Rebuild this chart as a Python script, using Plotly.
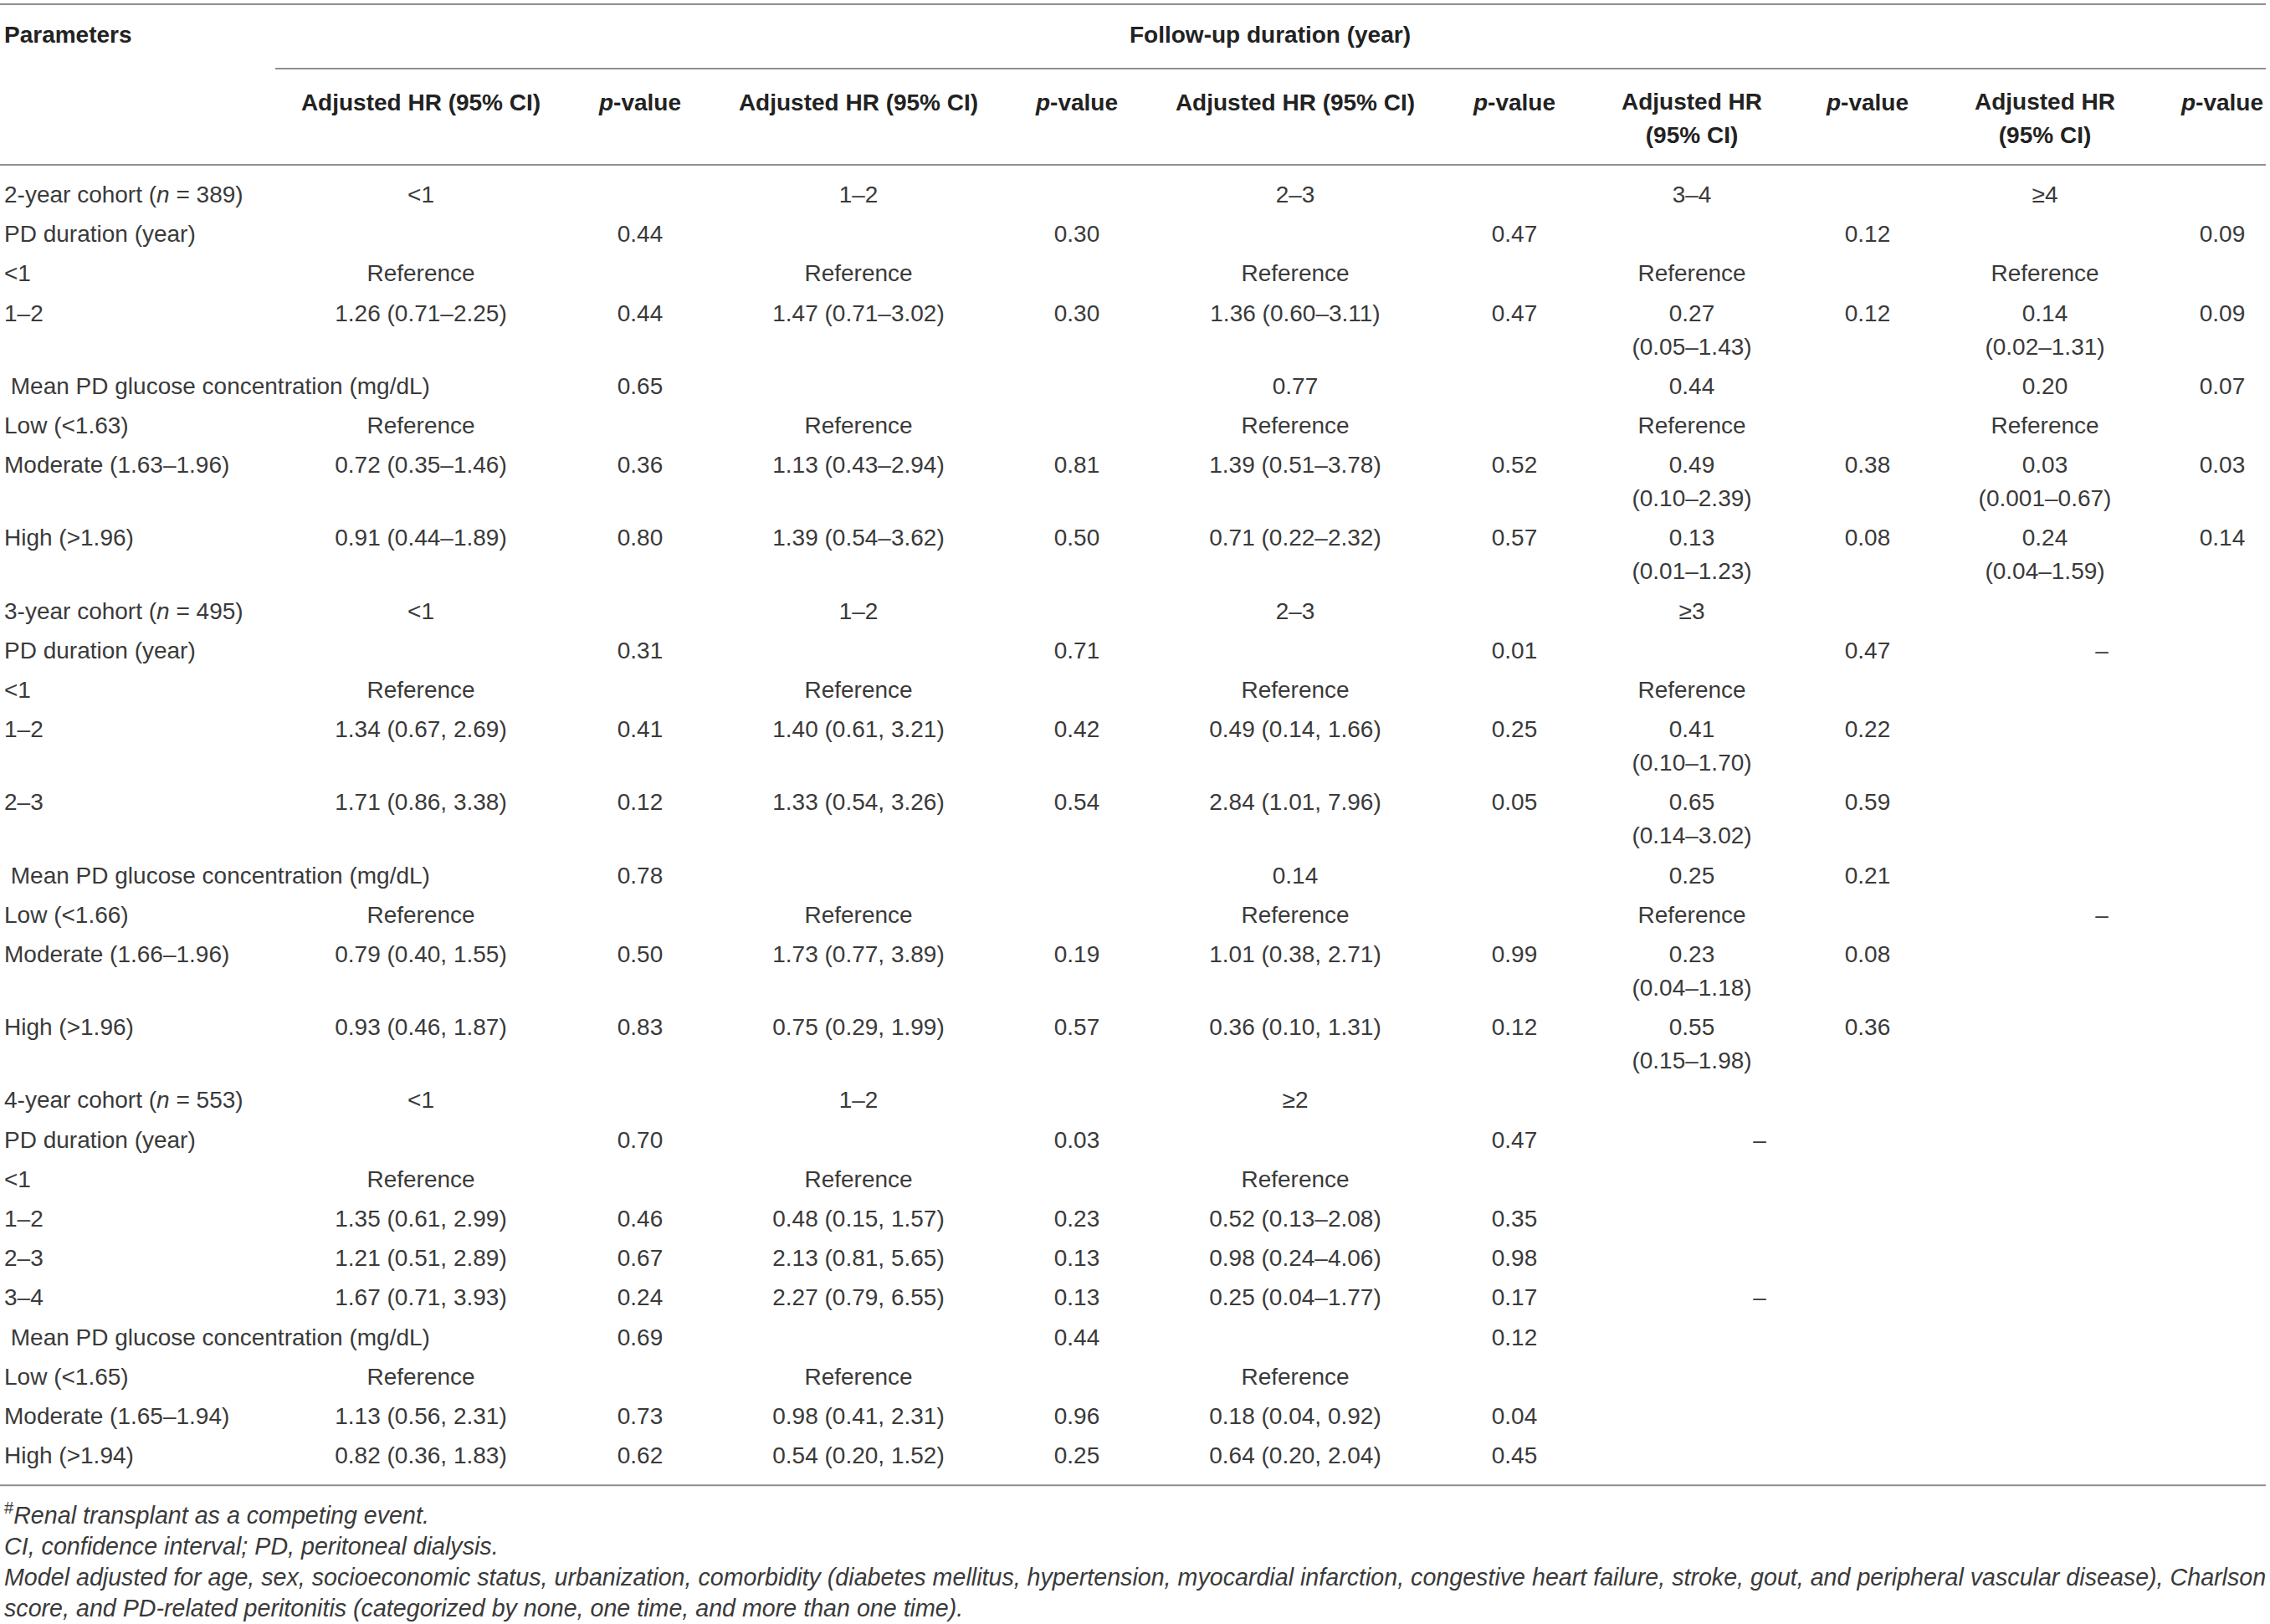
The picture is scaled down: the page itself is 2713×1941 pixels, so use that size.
import plotly.graph_objects as go

# ---------------- data ----------------
row_labels = [
    "2-year cohort (<i>n</i> = 389)", "PD duration (year)", "<1", "1–2",
    "\u00a0Mean PD glucose concentration (mg/dL)", "Low (<1.63)", "Moderate (1.63–1.96)", "High (>1.96)",
    "3-year cohort (<i>n</i> = 495)", "PD duration (year)", "<1", "1–2", "2–3",
    "\u00a0Mean PD glucose concentration (mg/dL)", "Low (<1.66)", "Moderate (1.66–1.96)", "High (>1.96)",
    "4-year cohort (<i>n</i> = 553)", "PD duration (year)", "<1", "1–2", "2–3", "3–4",
    "\u00a0Mean PD glucose concentration (mg/dL)", "Low (<1.65)", "Moderate (1.65–1.94)", "High (>1.94)",
]

hr1 = ["<1", "", "Reference", "1.26 (0.71–2.25)", "", "Reference", "0.72 (0.35–1.46)", "0.91 (0.44–1.89)",
       "<1", "", "Reference", "1.34 (0.67, 2.69)", "1.71 (0.86, 3.38)", "", "Reference", "0.79 (0.40, 1.55)", "0.93 (0.46, 1.87)",
       "<1", "", "Reference", "1.35 (0.61, 2.99)", "1.21 (0.51, 2.89)", "1.67 (0.71, 3.93)", "", "Reference", "1.13 (0.56, 2.31)", "0.82 (0.36, 1.83)"]
p1 = ["", "0.44", "", "0.44", "0.65", "", "0.36", "0.80",
      "", "0.31", "", "0.41", "0.12", "0.78", "", "0.50", "0.83",
      "", "0.70", "", "0.46", "0.67", "0.24", "0.69", "", "0.73", "0.62"]
hr2 = ["1–2", "", "Reference", "1.47 (0.71–3.02)", "", "Reference", "1.13 (0.43–2.94)", "1.39 (0.54–3.62)",
       "1–2", "", "Reference", "1.40 (0.61, 3.21)", "1.33 (0.54, 3.26)", "", "Reference", "1.73 (0.77, 3.89)", "0.75 (0.29, 1.99)",
       "1–2", "", "Reference", "0.48 (0.15, 1.57)", "2.13 (0.81, 5.65)", "2.27 (0.79, 6.55)", "", "Reference", "0.98 (0.41, 2.31)", "0.54 (0.20, 1.52)"]
p2 = ["", "0.30", "", "0.30", "", "", "0.81", "0.50",
      "", "0.71", "", "0.42", "0.54", "", "", "0.19", "0.57",
      "", "0.03", "", "0.23", "0.13", "0.13", "0.44", "", "0.96", "0.25"]
hr3 = ["2–3", "", "Reference", "1.36 (0.60–3.11)", "0.77", "Reference", "1.39 (0.51–3.78)", "0.71 (0.22–2.32)",
       "2–3", "", "Reference", "0.49 (0.14, 1.66)", "2.84 (1.01, 7.96)", "0.14", "Reference", "1.01 (0.38, 2.71)", "0.36 (0.10, 1.31)",
       "≥2", "", "Reference", "0.52 (0.13–2.08)", "0.98 (0.24–4.06)", "0.25 (0.04–1.77)", "", "Reference", "0.18 (0.04, 0.92)", "0.64 (0.20, 2.04)"]
p3 = ["", "0.47", "", "0.47", "", "", "0.52", "0.57",
      "", "0.01", "", "0.25", "0.05", "", "", "0.99", "0.12",
      "", "0.47", "", "0.35", "0.98", "0.17", "0.12", "", "0.04", "0.45"]
hr4 = ["3–4", "", "Reference", "0.27 (0.05–1.43)", "0.44", "Reference", "0.49 (0.10–2.39)", "0.13 (0.01–1.23)",
       "≥3", "", "Reference", "0.41 (0.10–1.70)", "0.65 (0.14–3.02)", "0.25", "Reference", "0.23 (0.04–1.18)", "0.55 (0.15–1.98)",
       "", "", "", "", "", "", "", "", "", ""]
p4 = ["", "0.12", "", "0.12", "", "", "0.38", "0.08",
      "", "0.47", "", "0.22", "0.59", "0.21", "", "0.08", "0.36",
      "", "", "", "", "", "", "", "", "", ""]
hr5 = ["≥4", "", "Reference", "0.14 (0.02–1.31)", "0.20", "Reference", "0.03 (0.001–0.67)", "0.24 (0.04–1.59)",
       "", "", "", "", "", "", "", "", "",
       "", "", "", "", "", "", "", "", "", ""]
p5 = ["", "0.09", "", "0.09", "0.07", "", "0.03", "0.14",
      "", "", "", "", "", "", "", "", "",
      "", "", "", "", "", "", "", "", "", ""]
dash_3yr = ["", "", "", "", "", "", "", "",
            "", "–", "", "", "", "", "–", "", "",
            "", "", "", "", "", "", "", "", "", ""]
dash_4yr = ["", "", "", "", "", "", "", "",
            "", "", "", "", "", "", "", "", "",
            "", "–", "", "", "", "–", "", "", "", ""]

header_group = "Follow-up duration (year)"
header_param = "Parameters"
header_hr_wide = "Adjusted HR (95% CI)"
header_hr_narrow = ["Adjusted HR", "(95% CI)"]
header_p = "<i>p</i>-value"

footnotes = [
    "<sup>#</sup><i>Renal transplant as a competing event.</i>",
    "<i>CI, confidence interval; PD, peritoneal dialysis.</i>",
    "<i>Model adjusted for age, sex, socioeconomic status, urbanization, comorbidity (diabetes mellitus, hypertension, myocardial infarction, congestive heart failure, stroke, gout, and peripheral vascular disease), Charlson</i>",
    "<i>score, and PD-related peritonitis (categorized by none, one time, and more than one time).</i>",
]

# ---------------- layout constants ----------------
W, H = 2713, 1941
FONT = "Liberation Sans, Arial, Helvetica, sans-serif"
BODY_SIZE = 28
FOOT_SIZE = 28.65
BODY_COLOR = "#3a3a3a"
HEAD_COLOR = "#222222"
RULE_COLOR = "#8f8f8f"
LEFT_X = 5
RIGHT_X = 2708

# (values, x-center, wrap-to-two-lines)
columns = [
    (hr1, 503, False), (p1, 765, False),
    (hr2, 1026, False), (p2, 1287, False),
    (hr3, 1548, False), (p3, 1810, False),
    (hr4, 2022, True), (p4, 2232, False),
    (hr5, 2444, True), (p5, 2656, False),
    (dash_3yr, 2512, False), (dash_4yr, 2103, False),
]

ROW_START = 235
ROW_H = 47.2
LINE_H = 40


def split_cell(text, wrap):
    if wrap and " (" in text:
        a, b = text.split(" (", 1)
        return [a, "(" + b]
    return [text] if text else []


# number of lines per row
n_rows = len(row_labels)
n_lines = []
for i in range(n_rows):
    m = 1
    for vals, _, wrap in columns:
        m = max(m, len(split_cell(vals[i], wrap)))
    n_lines.append(m)

row_y = []
y = ROW_START
for i in range(n_rows):
    row_y.append(y)
    y += ROW_H + LINE_H * (n_lines[i] - 1)
table_bottom = row_y[-1] + 33

fig = go.Figure()

body_font = dict(family=FONT, size=BODY_SIZE, color=BODY_COLOR)
head_font = dict(family=FONT, size=BODY_SIZE, color=HEAD_COLOR, weight="bold")

# row labels
fig.add_trace(go.Scatter(
    x=[LEFT_X] * n_rows, y=row_y, text=row_labels, mode="text",
    textposition="middle right", textfont=body_font,
    hoverinfo="skip", showlegend=False))

# value columns
for vals, cx, wrap in columns:
    xs, ys, ts = [], [], []
    for i, v in enumerate(vals):
        for k, line in enumerate(split_cell(v, wrap)):
            xs.append(cx)
            ys.append(row_y[i] + k * LINE_H)
            ts.append(line)
    fig.add_trace(go.Scatter(
        x=xs, y=ys, text=ts, mode="text", textposition="middle center",
        textfont=body_font, hoverinfo="skip", showlegend=False))

# header
HEAD_Y1 = 44
HEAD_Y2 = 125
hx, hy, ht = [], [], []
hx.append(1518); hy.append(HEAD_Y1); ht.append(header_group)
for idx, (vals, cx, wrap) in enumerate(columns[:10]):
    if idx % 2 == 1:
        hx.append(cx); hy.append(HEAD_Y2); ht.append(header_p)
    elif wrap:
        for k, line in enumerate(header_hr_narrow):
            hx.append(cx); hy.append(HEAD_Y2 + k * LINE_H - 1); ht.append(line)
    else:
        hx.append(cx); hy.append(HEAD_Y2); ht.append(header_hr_wide)
fig.add_trace(go.Scatter(
    x=hx, y=hy, text=ht, mode="text", textposition="middle center",
    textfont=head_font, hoverinfo="skip", showlegend=False))
fig.add_trace(go.Scatter(
    x=[LEFT_X], y=[HEAD_Y1], text=[header_param], mode="text",
    textposition="middle right", textfont=head_font,
    hoverinfo="skip", showlegend=False))

# footnotes
FOOT_START = table_bottom + 39
FOOT_STEP = 37
fig.add_trace(go.Scatter(
    x=[LEFT_X] * len(footnotes),
    y=[FOOT_START + k * FOOT_STEP for k in range(len(footnotes))],
    text=footnotes, mode="text", textposition="middle right",
    textfont=dict(family=FONT, size=FOOT_SIZE, color=BODY_COLOR),
    hoverinfo="skip", showlegend=False))

# rules
rules = [
    (0, RIGHT_X, 5),
    (329, RIGHT_X, 82),
    (0, RIGHT_X, 197),
    (0, RIGHT_X, table_bottom),
]
for x0, x1, yy in rules:
    fig.add_shape(type="line", x0=x0, x1=x1, y0=yy, y1=yy, xref="x", yref="y",
                  line=dict(color=RULE_COLOR, width=2))

fig.update_layout(
    width=W, height=H,
    margin=dict(l=0, r=0, t=0, b=0),
    paper_bgcolor="white", plot_bgcolor="white",
    xaxis=dict(range=[0, W], visible=False, fixedrange=True),
    yaxis=dict(range=[H, 0], visible=False, fixedrange=True),
)

fig.write_html(
    "out.html",
    config={"displayModeBar": False, "staticPlot": True},
    post_script="document.body.style.margin='0px';document.body.style.overflow='hidden';",
)
